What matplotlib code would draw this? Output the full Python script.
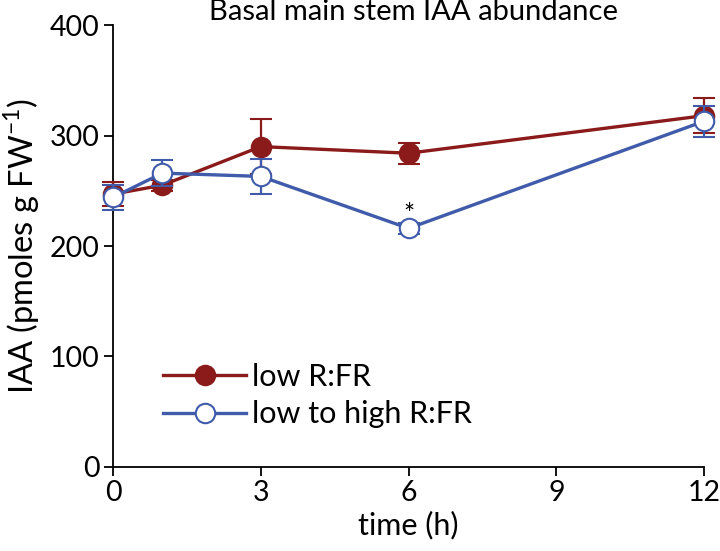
import matplotlib
matplotlib.use("Agg")
import matplotlib.pyplot as plt
from matplotlib.lines import Line2D

plt.rcParams['font.family'] = ['Lato', 'DejaVu Sans']
plt.rcParams['mathtext.fontset'] = 'custom'
plt.rcParams['mathtext.rm'] = 'Lato'

time_low = [0, 1, 3, 6, 12]
iaa_low = [247, 255, 290, 284, 318]
err_low = [11, 5, 25, 9.5, 16]

time_high = [0, 1, 3, 6, 12]
iaa_high = [244, 266, 263, 216, 313]
err_high = [11.5, 12, 16, 5, 14]

label_low = "low R:FR"
label_high = "low to high R:FR"
red = "#8B1A1A"
blue = "#3F5BAA"

fig = plt.figure(figsize=(7.2, 5.51), dpi=100)
ax = fig.add_axes([0.157, 0.1525, 0.821, 0.802])

ms = 14
ax.errorbar(time_low, iaa_low, yerr=err_low, color=red, lw=2.4, marker='o',
            ms=ms, mfc=red, mec=red, mew=1.5, capsize=8, elinewidth=1.6,
            capthick=1.6, clip_on=False, zorder=3)
ax.errorbar(time_high, iaa_high, yerr=err_high, color=blue, lw=2.4, marker='o',
            ms=ms, mfc='white', mec=blue, mew=1.5, capsize=8, elinewidth=1.6,
            capthick=1.6, clip_on=False, zorder=4)

ax.text(6, 216, '*', ha='center', va='bottom', fontsize=19, color='black')

ax.set_xlim(0, 12)
ax.set_ylim(0, 400)
ax.set_xticks([0, 3, 6, 9, 12])
ax.set_yticks([0, 100, 200, 300, 400])
for s in ['top', 'right']:
    ax.spines[s].set_visible(False)
for s in ['left', 'bottom']:
    ax.spines[s].set_linewidth(1.3)
ax.tick_params(direction='out', length=6.5, width=1.3, labelsize=20.5, pad=3)

ax.set_xlabel('time (h)', fontsize=22, labelpad=3)
ax.set_ylabel('IAA (pmoles g FW$^{\\mathregular{-1}}$)', fontsize=23.5, labelpad=6)
ax.set_title('Basal main stem IAA abundance', fontsize=21, pad=-1, x=0.508)

handles = [
    Line2D([], [], color=red, lw=2.4, marker='o', ms=ms, mfc=red, mec=red, mew=1.5),
    Line2D([], [], color=blue, lw=2.4, marker='o', ms=ms, mfc='white', mec=blue, mew=1.5),
]
leg = ax.legend(handles, [label_low, label_high], loc='upper left',
                bbox_to_anchor=(0.085, 0.235), frameon=False,
                fontsize=22, handlelength=2.7, handletextpad=0.2,
                labelspacing=0.3, borderpad=0, borderaxespad=0)

fig.savefig('out.png', dpi=100)
